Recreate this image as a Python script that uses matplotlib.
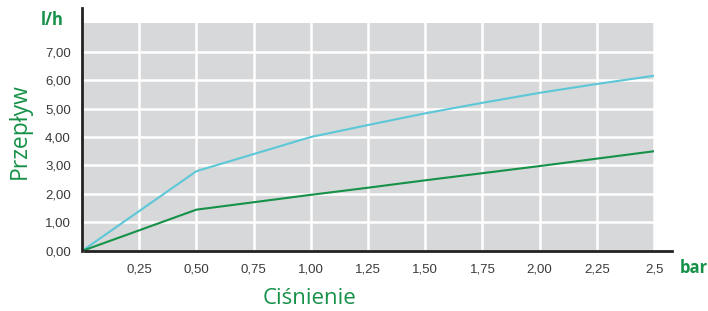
import numpy as np
import matplotlib
matplotlib.use('Agg')
from matplotlib import pyplot as plt

# values
pressure = [0, 0.5, 1.0, 1.25, 1.5, 1.75, 2.0, 2.25, 2.5]
flow_high = [0, 2.8, 4.0, 4.42, 4.83, 5.2, 5.55, 5.86, 6.15]
flow_low = [0, 1.45, 1.97, 2.22, 2.48, 2.73, 2.98, 3.24, 3.5]
x_ticks = [0.25, 0.5, 0.75, 1.0, 1.25, 1.5, 1.75, 2.0, 2.25, 2.5]
x_labels = ['0,25', '0,50', '0,75', '1,00', '1,25', '1,50', '1,75', '2,00', '2,25', '2,5']
y_ticks = [0, 1, 2, 3, 4, 5, 6, 7]
y_labels = ['0,00', '1,00', '2,00', '3,00', '4,00', '5,00', '6,00', '7,00']

green = '#169148'
cyan = '#5cc8d7'
tick_color = '#3a3a3a'

plt.rcParams['font.family'] = ['Liberation Sans', 'DejaVu Sans']

fig = plt.figure(figsize=(7.08, 3.11), dpi=100)
ax = fig.add_axes([0.1158, 0.193, 0.808, 0.733])
ax.set_facecolor('#d7d8da')

ax.plot(pressure, flow_high, color=cyan, lw=1.5, zorder=3)
ax.plot(pressure, flow_low, color=green, lw=1.5, zorder=3)

ax.set_xlim(0, 2.5)
ax.set_ylim(0, 8)
ax.set_xticks(x_ticks)
ax.set_xticklabels(x_labels)
ax.set_yticks(y_ticks)
ax.set_yticklabels(y_labels)
ax.tick_params(length=0, labelsize=9.5, colors=tick_color, pad=9)
ax.tick_params(axis='y', pad=8)
ax.grid(True, color='white', lw=1.8, zorder=1)
ax.set_axisbelow(True)

for s in ['top', 'right', 'left', 'bottom']:
  ax.spines[s].set_visible(False)

# axis lines extending past the plot area
ax.plot([0, 0], [0, 1.066], transform=ax.transAxes, color='#222222', lw=2, clip_on=False, zorder=4)
ax.plot([0.005, 1.031], [0, 0], transform=ax.transAxes, color='#222222', lw=2, clip_on=False, zorder=4)

fig.text(0.074, 0.935, 'l/h', color=green, fontsize=12, fontweight='bold', family='Open Sans', ha='center', va='center')
fig.text(0.98, 0.137, 'bar', color=green, fontsize=12, fontweight='bold', family='Open Sans', ha='center', va='center')
fig.text(0.437, 0.04, 'Ciśnienie', color=green, fontsize=16, family='Open Sans', ha='center', va='center')
fig.text(0.028, 0.58, 'Przepływ', color=green, fontsize=16.5, family='Open Sans', rotation=90, ha='center', va='center')

fig.savefig('out.png', dpi=100)
